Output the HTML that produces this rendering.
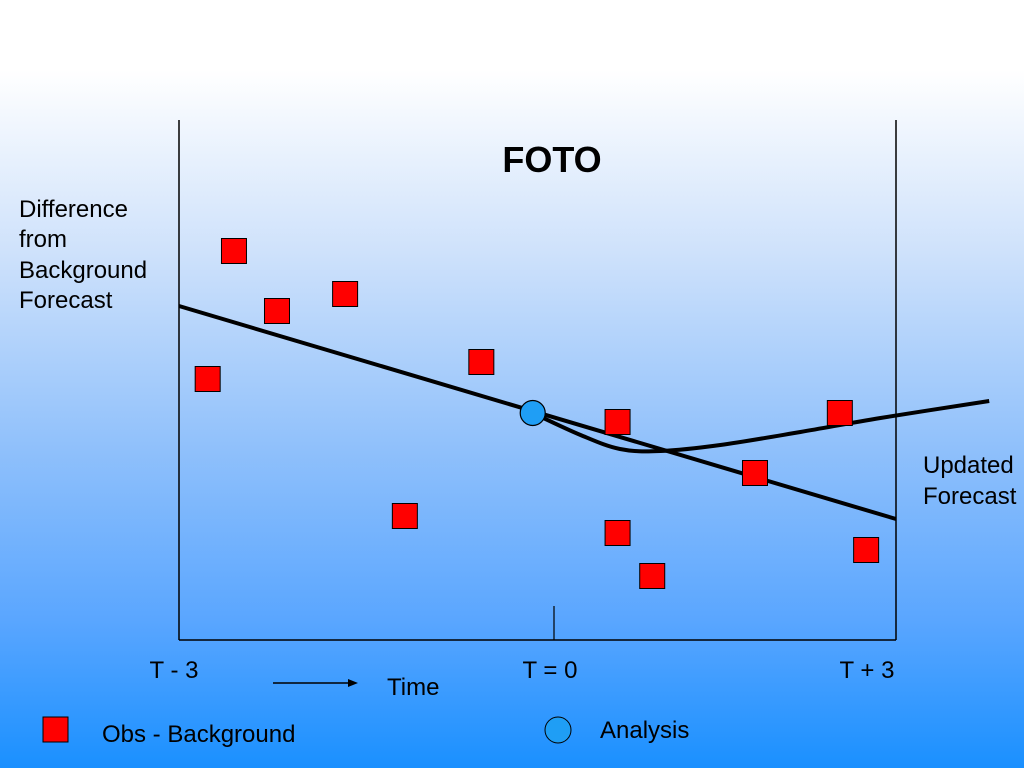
<!DOCTYPE html>
<html><head><meta charset="utf-8"><style>
body{margin:0;width:1024px;height:768px;overflow:hidden;font-family:"Liberation Sans",sans-serif;}
#bg{position:absolute;left:0;top:0;width:1024px;height:768px;background:linear-gradient(to bottom,#ffffff 0px,#ffffff 70px,#cfe2fb 250px,#8fc0fb 450px,#5aa6ff 620px,#1a90ff 768px);}
svg{position:absolute;left:0;top:0}
</style></head><body>
<div id="bg"></div>
<svg id="chart" width="1024" height="768" font-family="Liberation Sans, sans-serif">
<text x="552" y="172" font-size="36" font-weight="bold" text-anchor="middle">FOTO</text>
<g font-size="24">
<text x="19" y="217">Difference</text><text x="19" y="247">from</text><text x="19" y="278">Background</text><text x="19" y="308">Forecast</text></g>
<g font-size="24">
<text x="923" y="473">Updated</text><text x="923" y="504">Forecast</text></g>
<line x1="179" y1="120" x2="179" y2="640" stroke="#000" stroke-width="1.5"/>
<line x1="896" y1="120" x2="896" y2="640" stroke="#000" stroke-width="1.5"/>
<line x1="179" y1="640" x2="896" y2="640" stroke="#000" stroke-width="1.5"/>
<line x1="554" y1="606" x2="554" y2="640" stroke="#000" stroke-width="1.2"/>
<g font-size="24">
<text x="174" y="678" text-anchor="middle">T - 3</text>
<text x="550" y="678" text-anchor="middle">T = 0</text>
<text x="867" y="678" text-anchor="middle">T + 3</text></g>
<line x1="273" y1="683" x2="352" y2="683" stroke="#000" stroke-width="1.5"/>
<polygon points="358,683 348,679 348,687" fill="#000"/>
<text x="387" y="695" font-size="24">Time</text>
<rect x="43" y="717" width="25" height="25" fill="#ff0000" stroke="#000" stroke-width="1"/>
<text x="102" y="742" font-size="24">Obs - Background</text>
<ellipse cx="558" cy="730" rx="13" ry="13" fill="#1f9ef5" stroke="#000" stroke-width="1"/>
<text x="600" y="738" font-size="24">Analysis</text>
<g id="plot"></g>
</svg>
<script>
const obsX=[-2.76,-2.54,-2.18,-1.61,-1.11,-0.47,0.67,0.67,0.96,1.82,2.53,2.75];
const obsY=[2.61,3.89,3.29,3.46,1.24,2.78,2.18,1.07,0.64,1.67,2.27,0.90];
const bgLineX=[-3,3];
const bgLineY=[3.34,1.21];
const updX=[-0.04,0.36,0.69,1.03,1.53,2.2,2.87,3.78];
const updY=[2.27,2.05,1.91,1.89,1.95,2.08,2.22,2.39];
const anaX=[-0.04];
const anaY=[2.27];
const sx=v=>179+(v+3)*119.5;
const sy=v=>640-v*100;
const NS="http://www.w3.org/2000/svg";
const g=document.getElementById('plot');
function mk(t,a){const e=document.createElementNS(NS,t);for(const k in a)e.setAttribute(k,a[k]);g.appendChild(e);return e;}
const bl=mk('line',{x1:sx(bgLineX[0]),y1:sy(bgLineY[0]),x2:sx(bgLineX[1]),y2:sy(bgLineY[1]),stroke:'#000','stroke-width':4});


const P=updX.map((x,i)=>[sx(x),sy(updY[i])]);
let d='M'+P[0][0]+','+P[0][1];
for(let i=0;i<P.length-1;i++){const p0=P[Math.max(0,i-1)],p1=P[i],p2=P[i+1],p3=P[Math.min(P.length-1,i+2)];
d+=' C'+(p1[0]+(p2[0]-p0[0])/6)+','+(p1[1]+(p2[1]-p0[1])/6)+' '+(p2[0]-(p3[0]-p1[0])/6)+','+(p2[1]-(p3[1]-p1[1])/6)+' '+p2[0]+','+p2[1];}
const ul=mk('path',{d:d,fill:'none',stroke:'#000','stroke-width':4});


obsX.forEach((x,i)=>{const r=mk('rect',{x:sx(x)-12.5,y:sy(obsY[i])-12.5,width:25,height:25,fill:'#ff0000',stroke:'#000','stroke-width':1});

});
anaX.forEach((x,i)=>{const c=mk('circle',{cx:sx(x),cy:sy(anaY[i]),r:12.5,fill:'#1f9ef5',stroke:'#000','stroke-width':1.2});

});
</script>
</body></html>
